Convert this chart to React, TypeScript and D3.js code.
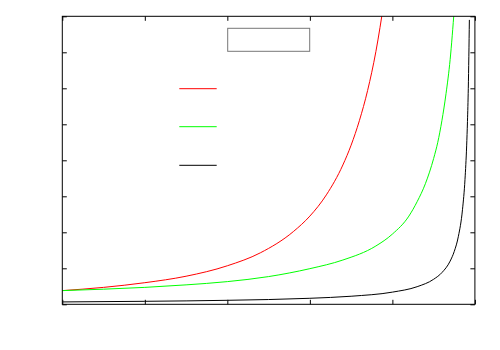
import React, { useRef, useEffect } from "react";
import * as d3 from "d3";

// values (x: 0..5, y: 0..8)
const redX = [0, 0.5, 1.0, 1.5, 2.0, 2.4, 2.8, 3.0, 3.2, 3.4, 3.5, 3.6, 3.7, 3.8, 3.9];
const redY = [0.38, 0.47, 0.6, 0.78, 1.07, 1.43, 2.02, 2.45, 3.04, 3.87, 4.42, 5.1, 5.94, 7.02, 8.42];

const greenX = [0, 0.5, 1.0, 1.5, 2.0, 2.5, 3.0, 3.4, 3.8, 4.0, 4.2, 4.3, 4.4, 4.5, 4.55, 4.6, 4.65, 4.7, 4.75];
const greenY = [0.38, 0.42, 0.47, 0.54, 0.63, 0.77, 0.99, 1.23, 1.62, 1.95, 2.45, 2.85, 3.35, 4.05, 4.5, 5.1, 5.85, 6.8, 8.2];

const blackX = [0, 1, 2, 3, 3.5, 4.0, 4.3, 4.5, 4.6, 4.7, 4.75, 4.8, 4.85, 4.88, 4.9, 4.91, 4.92, 4.933];
const blackY = [0.066, 0.083, 0.111, 0.167, 0.224, 0.338, 0.489, 0.695, 0.88, 1.2, 1.47, 1.89, 2.64, 3.47, 4.4, 5.08, 6.0, 7.9];

const xTicks = [0, 1, 2, 3, 4, 5];
const yTicks = [0, 1, 2, 3, 4, 5, 6, 7, 8];

const series = [
  { name: "red", xs: redX, ys: redY, color: "#ff0000" },
  { name: "green", xs: greenX, ys: greenY, color: "#00ff00" },
  { name: "black", xs: blackX, ys: blackY, color: "#000000" },
];

const App = () => {
  const svgRef = useRef<SVGSVGElement>(null);

  useEffect(() => {
    const width = 500;
    const height = 350;
    const margin = { top: 16.3, right: 25.1, bottom: 45.7, left: 62.3 };

    const svg = d3.select(svgRef.current);
    svg.selectAll("*").remove();

    const x = d3.scaleLinear().domain([0, 5]).range([margin.left, width - margin.right]);
    const y = d3.scaleLinear().domain([0, 8]).range([height - margin.bottom, margin.top]);

    svg
      .append("clipPath")
      .attr("id", "plot-clip")
      .append("rect")
      .attr("x", x(0))
      .attr("y", y(8))
      .attr("width", x(5) - x(0))
      .attr("height", y(0) - y(8));

    // ticks, pointing inward on all four sides
    const tick = 4.5;
    svg
      .append("g")
      .attr("transform", `translate(0,${y(0)})`)
      .call(d3.axisBottom(x).tickValues(xTicks).tickSize(-tick).tickSizeOuter(0).tickFormat(() => ""));
    svg
      .append("g")
      .attr("transform", `translate(0,${y(8)})`)
      .call(d3.axisTop(x).tickValues(xTicks).tickSize(-tick).tickSizeOuter(0).tickFormat(() => ""));
    svg
      .append("g")
      .attr("transform", `translate(${x(0)},0)`)
      .call(d3.axisLeft(y).tickValues(yTicks).tickSize(-tick).tickSizeOuter(0).tickFormat(() => ""));
    svg
      .append("g")
      .attr("transform", `translate(${x(5)},0)`)
      .call(d3.axisRight(y).tickValues(yTicks).tickSize(-tick).tickSizeOuter(0).tickFormat(() => ""));
    svg.selectAll(".domain").remove();
    svg.selectAll(".tick line").attr("stroke", "#000").attr("stroke-width", 1);

    // key
    svg
      .append("rect")
      .attr("x", 227.7)
      .attr("y", 28.3)
      .attr("width", 82)
      .attr("height", 23)
      .attr("fill", "none")
      .attr("stroke", "#777")
      .attr("stroke-width", 1);

    const keyY = [88.7, 126.7, 165.3];
    series.forEach((s, i) => {
      svg
        .append("line")
        .attr("x1", 179.3)
        .attr("x2", 216.7)
        .attr("y1", keyY[i])
        .attr("y2", keyY[i])
        .attr("stroke", s.color)
        .attr("stroke-width", 1);
    });

    const line = d3.line().curve(d3.curveMonotoneX);

    series.forEach((s) => {
      const pts: [number, number][] = s.xs.map((v, i) => [x(v), y(s.ys[i])]);
      svg
        .append("path")
        .attr("clip-path", "url(#plot-clip)")
        .attr("d", line(pts))
        .attr("fill", "none")
        .attr("stroke", s.color)
        .attr("stroke-width", 1);
    });

    // frame
    svg
      .append("rect")
      .attr("x", x(0))
      .attr("y", y(8))
      .attr("width", x(5) - x(0))
      .attr("height", y(0) - y(8))
      .attr("fill", "none")
      .attr("stroke", "#000")
      .attr("stroke-width", 1);
  }, []);

  return (
    <svg
      ref={svgRef}
      width={500}
      height={350}
      style={{ position: "absolute", left: 0, top: 0, background: "#fff" }}
    />
  );
};

export default App;
